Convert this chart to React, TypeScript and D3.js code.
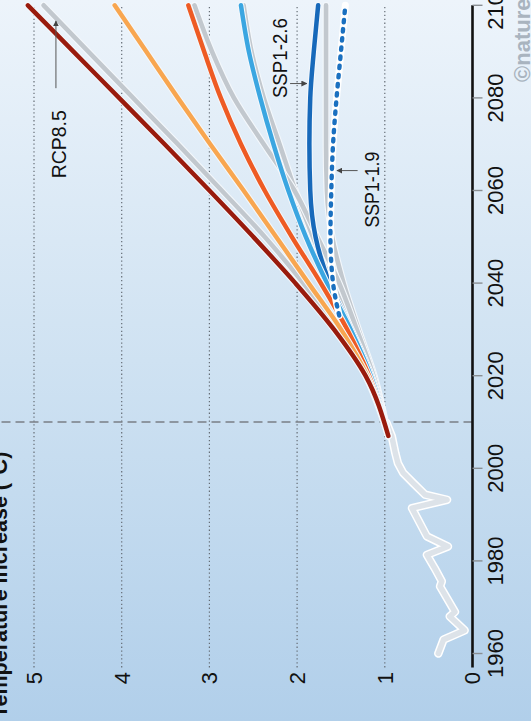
import React from 'react';
import * as d3 from 'd3';

const W = 531;
const H = 721;

// Axis ticks
const yearTicks = [1960, 1980, 2000, 2020, 2040, 2060, 2080, 2100];
const tempTicks = [0, 1, 2, 3, 4, 5];
const gridTemps = [1, 2, 3, 4, 5];
const presentYear = 2010;

// Observed warming (°C above pre-industrial)
const obsYears = [1960, 1963, 1965, 1968, 1969, 1974.5, 1975.6, 1978.4, 1981.3, 1983.1, 1985.3, 1991.4, 1993.2, 1994.3, 1996.8, 1999, 2001.1, 2003.3, 2006.9, 2009.8];
const obsTemps = [0.39, 0.33, 0.09, 0.26, 0.2, 0.37, 0.35, 0.43, 0.52, 0.28, 0.52, 0.69, 0.29, 0.54, 0.675, 0.79, 0.85, 0.88, 0.92, 0.98];

// Projections
const projYears = [2007, 2020, 2030, 2040, 2050, 2060, 2070, 2080, 2090, 2100];
const rcp26 = [0.96, 1.12, 1.3, 1.47, 1.6, 1.66, 1.67, 1.67, 1.67, 1.67];
const rcp45 = [0.96, 1.15, 1.35, 1.6, 1.82, 2.02, 2.2, 2.38, 2.52, 2.61];
const rcp60 = [0.96, 1.13, 1.32, 1.52, 1.77, 2.03, 2.38, 2.72, 2.97, 3.17];
const rcp85 = [0.96, 1.22, 1.54, 1.93, 2.37, 2.86, 3.36, 3.87, 4.38, 4.89];
const ssp126 = [0.96, 1.15, 1.38, 1.63, 1.79, 1.85, 1.86, 1.85, 1.81, 1.76];
const ssp245 = [0.96, 1.16, 1.39, 1.66, 1.9, 2.1, 2.27, 2.42, 2.55, 2.64];
const ssp370 = [0.96, 1.18, 1.43, 1.73, 2.06, 2.37, 2.64, 2.87, 3.06, 3.24];
const ssp460 = [0.96, 1.2, 1.5, 1.87, 2.24, 2.61, 2.99, 3.36, 3.72, 4.08];
const ssp585 = [0.96, 1.22, 1.58, 2.02, 2.5, 3.0, 3.51, 4.03, 4.55, 5.07];
const ssp119Years = [2033, 2040, 2050, 2060, 2070, 2080, 2090, 2100];
const ssp119 = [1.52, 1.59, 1.62, 1.61, 1.59, 1.55, 1.5, 1.45];

const FONT = '"Liberation Sans", Arial, Helvetica, sans-serif';

type Pt = [number, number];
const zip = (xs: number[], ys: number[]): Pt[] => xs.map((v, i) => [v, ys[i]]);

export default function App() {
  // Plot laid out landscape (years across, °C upward), then turned a quarter turn
  const x = d3.scaleLinear().domain([1957, 2100]).range([53.6, 715.7]);
  const y = d3.scaleLinear().domain([0, 5]).range([472.5, 34]);

  const smooth = d3
    .line<Pt>()
    .x((d) => x(d[0]))
    .y((d) => y(d[1]))
    .curve(d3.curveMonotoneX);
  const straight = d3
    .line<Pt>()
    .x((d) => x(d[0]))
    .y((d) => y(d[1]));

  const grays = [rcp26, rcp45, rcp60, rcp85];
  const colored: { data: number[]; color: string }[] = [
    { data: ssp126, color: '#1769ba' },
    { data: ssp245, color: '#3ba6e1' },
    { data: ssp370, color: '#ee5b24' },
    { data: ssp460, color: '#f8a650' },
    { data: ssp585, color: '#991b0d' },
  ];

  const [xMin, xMax] = x.range();
  const ssp119Path = smooth(zip(ssp119Years, ssp119)) || '';

  const arrow = (yr0: number, t0: number, yr1: number, t1: number, key: string) => (
    <line
      key={key}
      x1={x(yr0)}
      y1={y(t0)}
      x2={x(yr1)}
      y2={y(t1)}
      stroke="#555"
      strokeWidth={1}
      markerEnd="url(#head)"
    />
  );

  return (
    <svg
      width={W}
      height={H}
      style={{ position: 'fixed', left: 0, top: 0, display: 'block' }}
      fontFamily={FONT}
    >
      <defs>
        <linearGradient id="bg" x1="0" y1="0" x2="0" y2="1">
          <stop offset="0%" stopColor="#edf4fb" />
          <stop offset="50%" stopColor="#cfe2f2" />
          <stop offset="100%" stopColor="#b1cfea" />
        </linearGradient>
        <marker
          id="head"
          viewBox="0 0 10 10"
          refX="9"
          refY="5"
          markerWidth="6"
          markerHeight="6"
          markerUnits="userSpaceOnUse"
          orient="auto"
        >
          <path d="M0,0 L10,5 L0,10 Z" fill="#444" />
        </marker>
      </defs>
      <rect x={0} y={0} width={W} height={H} fill="url(#bg)" />

      <g transform={`translate(0,${H}) rotate(-90)`}>
        {/* title */}
        <text x={3} y={7} fontSize={21.5} fontWeight="bold" fill="#111">
          Temperature increase (°C)
        </text>
        <text x={639} y={530} fontSize={22} fontWeight="bold" fill="#a9b4bf">
          ©nature
        </text>

        {/* horizontal gridlines */}
        {gridTemps.map((t) => (
          <line
            key={`g${t}`}
            x1={xMin}
            x2={xMax}
            y1={y(t)}
            y2={y(t)}
            stroke="#656d75"
            strokeWidth={1.2}
            strokeDasharray="1.3 2.6"
          />
        ))}

        {/* present-day marker */}
        <line
          x1={x(presentYear)}
          x2={x(presentYear)}
          y1={y(0)}
          y2={0}
          stroke="#7a7f85"
          strokeWidth={1.6}
          strokeDasharray="9 5"
        />

        {/* temperature labels */}
        {tempTicks.map((t) => (
          <text key={`t${t}`} x={49} y={y(t) + 7.9} fontSize={22} textAnchor="end" fill="#111">
            {t}
          </text>
        ))}

        {/* observed record */}
        <path
          d={straight(zip(obsYears, obsTemps)) || ''}
          fill="none"
          stroke="#ffffff"
          strokeWidth={8.5}
          strokeLinejoin="round"
          strokeLinecap="round"
        />
        <path
          d={straight(zip(obsYears, obsTemps)) || ''}
          fill="none"
          stroke="#dde3e9"
          strokeWidth={5.5}
          strokeLinejoin="round"
          strokeLinecap="round"
        />

        {/* earlier RCP scenarios */}
        {grays.map((s, i) => (
          <g key={`r${i}`}>
            <path d={smooth(zip(projYears, s)) || ''} fill="none" stroke="#f4f8fc" strokeWidth={6.8} strokeLinecap="round" />
            <path d={smooth(zip(projYears, s)) || ''} fill="none" stroke="#c2c8ce" strokeWidth={4.6} strokeLinecap="round" />
          </g>
        ))}

        {/* SSP scenarios */}
        {colored.map((s, i) => (
          <g key={`s${i}`}>
            <path d={smooth(zip(projYears, s.data)) || ''} fill="none" stroke="#f4f8fc" strokeWidth={6.6} strokeLinecap="round" />
            <path d={smooth(zip(projYears, s.data)) || ''} fill="none" stroke={s.color} strokeWidth={4.5} strokeLinecap="round" />
          </g>
        ))}

        {/* SSP1-1.9 dashed */}
        <path d={ssp119Path} fill="none" stroke="#ffffff" strokeWidth={7} strokeLinecap="round" />
        <path
          d={ssp119Path}
          fill="none"
          stroke="#1a70c0"
          strokeWidth={4.4}
          strokeLinecap="round"
          strokeDasharray="2.4 6.8"
        />

        {/* year axis */}
        <line x1={xMin} x2={xMax} y1={y(0)} y2={y(0)} stroke="#111" strokeWidth={2.6} />
        {yearTicks.map((yr) => (
          <g key={`y${yr}`}>
            <line x1={x(yr)} x2={x(yr)} y1={y(0)} y2={y(0) + 10} stroke="#8a8f94" strokeWidth={1.4} />
            <text x={x(yr)} y={503} fontSize={22} textAnchor="middle" fill="#111">
              {yr}
            </text>
          </g>
        ))}

        {/* scenario callouts */}
        <text x={x(2070)} y={y(4.64)} fontSize={21} textAnchor="middle" textLength={68} lengthAdjust="spacingAndGlyphs" fill="#111">
          RCP8.5
        </text>
        {arrow(2082.1, 4.75, 2096.6, 4.75, 'a1')}
        <text x={x(2088.6)} y={y(2.12)} fontSize={21} textAnchor="middle" textLength={80} lengthAdjust="spacingAndGlyphs" fill="#111">
          SSP1-2.6
        </text>
        {arrow(2083.1, 2.08, 2083.1, 1.89, 'a2')}
        <text x={x(2060.2)} y={y(1.07)} fontSize={21} textAnchor="middle" textLength={76} lengthAdjust="spacingAndGlyphs" fill="#111">
          SSP1-1.9
        </text>
        {arrow(2064.3, 1.31, 2064.3, 1.545, 'a3')}
      </g>
    </svg>
  );
}
